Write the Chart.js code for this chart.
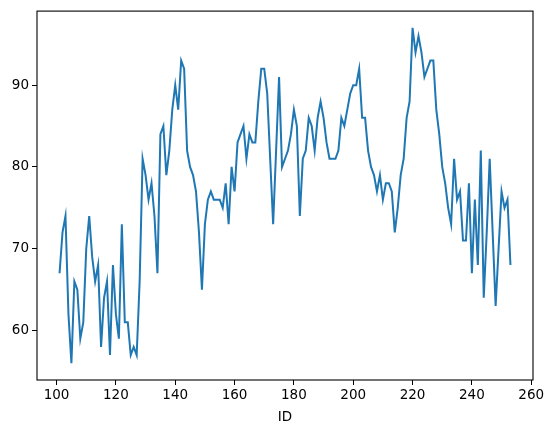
<!DOCTYPE html>
<html>
<head>
<meta charset="utf-8">
<script src="https://cdn.jsdelivr.net/npm/chart.js@4"></script>
<style>
    html, body { margin: 0; padding: 0; background: #fff; }
    #wrap { width: 555px; height: 432px; }
</style>
</head>
<body>
<div id="wrap"><canvas id="lineChart" width="555" height="432"></canvas></div>
<script>
const firstId = 101;
const scores = [
    67, 72, 74, 62, 56, 66, 65, 59, 61, 70,
    74, 69, 66, 68, 58, 64, 66, 57, 68, 62,
    59, 73, 61, 61, 57, 58, 57, 66, 81, 79,
    76, 78, 74, 67, 84, 85, 79, 82, 87, 90,
    87, 93, 92, 82, 80, 79, 77, 72, 65, 73,
    76, 77, 76, 76, 76, 75, 78, 73, 80, 77,
    83, 84, 85, 81, 84, 83, 83, 88, 92, 92,
    89, 81, 73, 82, 91, 80, 81, 82, 84, 87,
    85, 74, 81, 82, 86, 85, 82, 86, 88, 86,
    83, 81, 81, 81, 82, 86, 85, 87, 89, 90,
    90, 92, 86, 86, 82, 80, 79, 77, 79, 76,
    78, 78, 77, 72, 75, 79, 81, 86, 88, 97,
    94, 96, 94, 91, 92, 93, 93, 87, 84, 80,
    78, 75, 73, 81, 76, 77, 71, 71, 78, 67,
    76, 68, 82, 64, 72, 81, 72, 63, 70, 77,
    75, 76, 68
];
const ids = scores.map((_, i) => firstId + i);
const xTicks = [100, 120, 140, 160, 180, 200, 220, 240, 260];
const yTicks = [60, 70, 80, 90];

const font = { family: 'DejaVu Sans', size: 13.5 };

// matplotlib style 5% margins
const xMin = ids[0], xMax = ids[ids.length - 1];
const yMin = Math.min(...scores), yMax = Math.max(...scores);
const xPad = (xMax - xMin) * 0.05, yPad = (yMax - yMin) * 0.05;

const frame = {
    id: 'frame',
    afterDraw(chart) {
        const { ctx, chartArea: a } = chart;
        ctx.save();
        ctx.strokeStyle = '#000';
        ctx.lineWidth = 1.1;
        ctx.strokeRect(a.left, a.top, a.right - a.left, a.bottom - a.top);
        ctx.restore();
    }
};

new Chart(document.getElementById('lineChart'), {
    type: 'line',
    data: {
        datasets: [{
            label: 'score',
            data: ids.map((id, i) => ({ x: id, y: scores[i] })),
            borderColor: '#1f77b4',
            borderWidth: 2,
            pointRadius: 0,
            tension: 0,
            fill: false
        }]
    },
    options: {
        responsive: false,
        animation: false,
        layout: { padding: { top: 9, right: 22, left: 0, bottom: 6 } },
        plugins: { legend: { display: false }, tooltip: { enabled: false } },
        scales: {
            x: {
                type: 'linear',
                min: xMin - xPad,
                max: xMax + xPad,
                afterFit: s => { s.height = 46; },
                afterBuildTicks: s => { s.ticks = xTicks.map(v => ({ value: v })); },
                ticks: { color: '#000', font, padding: 2, maxRotation: 0 },
                grid: { drawOnChartArea: false, drawTicks: true, tickLength: 5, color: '#000', lineWidth: 1 },
                border: { display: false },
                title: { display: true, text: 'ID', color: '#000', font, padding: { top: 0, bottom: 0 } }
            },
            y: {
                min: yMin - yPad,
                max: yMax + yPad,
                afterFit: s => { s.width = 37; },
                afterBuildTicks: s => { s.ticks = yTicks.map(v => ({ value: v })); },
                ticks: { color: '#000', font, padding: 3 },
                grid: { drawOnChartArea: false, drawTicks: true, tickLength: 5, color: '#000', lineWidth: 1 },
                border: { display: false }
            }
        }
    },
    plugins: [frame]
});
</script>
</body>
</html>
